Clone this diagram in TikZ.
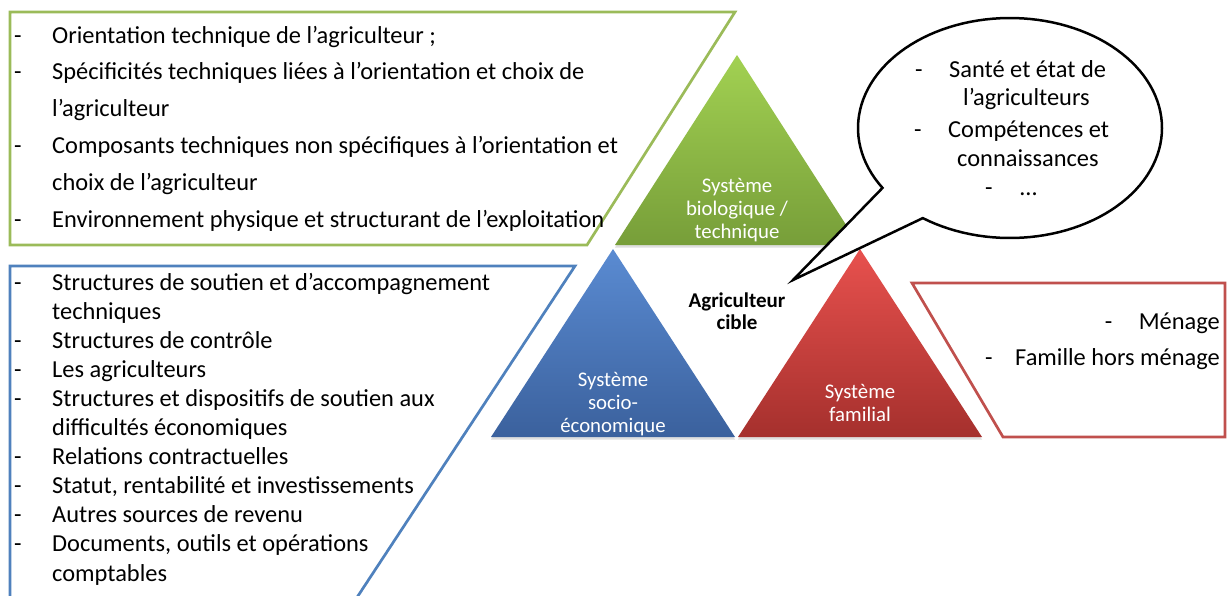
\documentclass[tikz,border=0pt]{standalone}
\usepackage{fontspec}
\setmainfont{Carlito}
\usetikzlibrary{shadows}

\definecolor{vertbord}{HTML}{9BBB59}
\definecolor{bleubord}{HTML}{4F81BD}
\definecolor{rougebord}{HTML}{C0504D}
\definecolor{vertclair}{HTML}{A2D152}
\definecolor{vertfonce}{HTML}{779E39}
\definecolor{bleuclair}{HTML}{5A8BD2}
\definecolor{bleufonce}{HTML}{3B619D}
\definecolor{rougeclair}{HTML}{E8514E}
\definecolor{rougefonce}{HTML}{A5302D}

\tikzset{
  listtext/.style={anchor=base west, inner sep=0pt, font=\fontsize{24.4}{29}\selectfont},
  tritext/.style={align=center, text=white, inner sep=0pt, font=\fontsize{20.8}{23.3}\selectfont},
  framebox/.style={line width=2.7pt, line join=miter},
  trishape/.style={drop shadow={shadow xshift=0pt, shadow yshift=-2.5pt, opacity=0.25}},
  bulle/.style={draw=black, fill=white, line width=2.5pt, line join=miter},
}

\begin{document}
\begin{tikzpicture}[x=1pt, y=-1pt]
  \useasboundingbox[fill=white] (0,0) rectangle (1227,595);

  % Frames around the lists
  \draw [framebox, draw=vertbord] (10,12) -- (735,12) -- (587,245) -- (10,245) -- cycle;
  \draw [framebox, draw=bleubord] (10,605) -- (10,266) -- (575,266) -- (352,605);
  \draw [framebox, draw=rougebord] (912,283) -- (1225,283) -- (1225,437) -- (1003,437) -- cycle;

  % The three systems
  \shade [trishape, top color=vertclair, bottom color=vertfonce]
    (737,55) -- (859,245) -- (615,245) -- cycle;
  \shade [trishape, top color=bleuclair, bottom color=bleufonce]
    (613,249) -- (735,437) -- (491,437) -- cycle;
  \shade [trishape, top color=rougeclair, bottom color=rougefonce]
    (860,249) -- (982,437) -- (738,437) -- cycle;

  \node [tritext] (biotech) at (737,210) {Système\\biologique /\\technique};
  \node [tritext] (socioeco) at (613,404) {Système\\socio-\\économique};
  \node [tritext] (familial) at (860,403) {Système\\familial};
  \node [align=center, inner sep=0pt, font=\bfseries\fontsize{21}{21.5}\selectfont]
    (cible) at (737,311) {Agriculteur\\cible};

  % Speech bubble pointing to the farmer
  \draw [bulle] (793,280) -- plot [domain=125:-213, samples=120]
    ({1010+152*cos(\x)}, {128+110*sin(\x)}) -- cycle;

  % Technical system list
  \foreach \d/\t [count=\i] in {
      -/{Orientation technique de l’agriculteur ;},
      -/{Spécificités techniques liées à l’orientation et choix de},
      {}/{l’agriculteur},
      -/{Composants techniques non spécifiques à l’orientation et},
      {}/{choix de l’agriculteur},
      -/{Environnement physique et structurant de l’exploitation}}
    \node [listtext] (tech-\i) at (14, {43+36.8*(\i-1)}) {\makebox[38pt][l]{\d}\t};

  % Socio-economic system list
  \foreach \d/\t [count=\i] in {
      -/{Structures de soutien et d’accompagnement},
      {}/{techniques},
      -/{Structures de contrôle},
      -/{Les agriculteurs},
      -/{Structures et dispositifs de soutien aux},
      {}/{difficultés économiques},
      -/{Relations contractuelles},
      -/{Statut, rentabilité et investissements},
      -/{Autres sources de revenu},
      -/{Documents, outils et opérations},
      {}/{comptables}}
    \node [listtext] (socio-\i) at (14, {290+29.1*(\i-1)}) {\makebox[38pt][l]{\d}\t};

  % Family system list
  \foreach \w/\y/\t [count=\i] in {34pt/329/{Ménage}, 30pt/365/{Famille hors ménage}}
    \node [listtext, anchor=base east] (famille-\i) at (1220,\y) {\makebox[\w][l]{-}\t};

  % Farmer list inside the bubble
  \foreach \x/\y/\t [count=\i] in {
      915/77/{\makebox[34pt][l]{-}Santé et état de},
      963/105/{l’agriculteurs},
      914/137/{\makebox[34pt][l]{-}Compétences et},
      957/166/{connaissances},
      985/195/{\makebox[35pt][l]{-}…}}
    \node [listtext] (perso-\i) at (\x,\y) {\t};

\end{tikzpicture}
\end{document}
